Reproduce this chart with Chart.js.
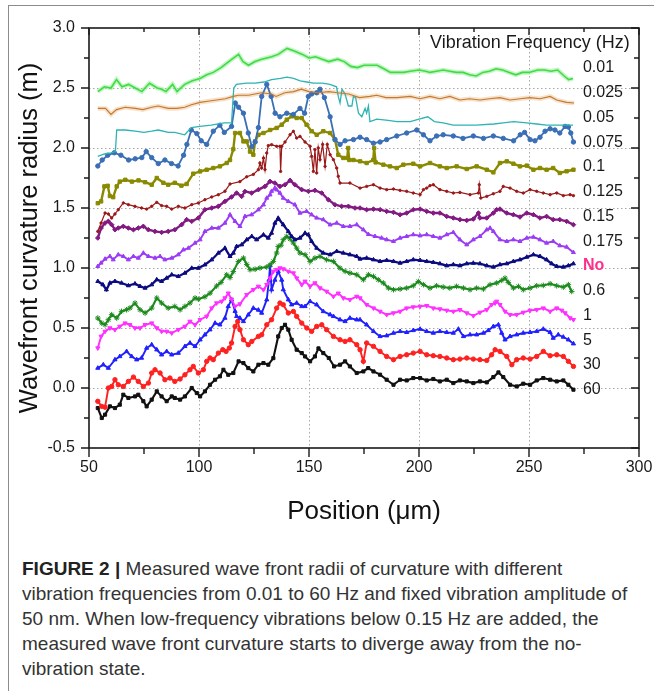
<!DOCTYPE html>
<html>
<head>
<meta charset="utf-8">
<script src="https://cdn.jsdelivr.net/npm/chart.js@4.4.1/dist/chart.umd.min.js"></script>
<style>
  html, body { margin: 0; padding: 0; background: #fff; }
  #wrap { position: relative; width: 654px; height: 691px; overflow: hidden; }
  #frame { position: absolute; left: 8px; top: 5px; right: -2px; bottom: -2px; border-left: 1px solid #8c8c8c; border-top: 1px solid #8c8c8c; }
  #chart { position: absolute; left: 0; top: 0; }
  #caption { position: absolute; left: 22px; top: 556px; font: 19px/25px "Liberation Sans", Arial, sans-serif; color: #333; white-space: nowrap; }
  #caption b { color: #222; }
</style>
</head>
<body>
<div id="wrap">
  <div id="frame"></div>
  <canvas id="chart" width="654" height="540"></canvas>
  <div id="caption">
    <b>FIGURE 2 |</b> Measured wave front radii of curvature with different<br>
    vibration frequencies from 0.01 to 60 Hz and fixed vibration amplitude of<br>
    50 nm. When low-frequency vibrations below 0.15 Hz are added, the<br>
    measured wave front curvature starts to diverge away from the no-<br>
    vibration state.
  </div>
</div>
<script>
// [position (µm), radius (m)] for each vibration frequency
const f001 = [[54,2.47],[57,2.51],[60,2.50],[62.5,2.57],[65,2.51],[68,2.53],[71,2.50],[74,2.47],[77.5,2.54],[81,2.50],[83,2.49],[85,2.47],[88,2.53],[90,2.47],[93.5,2.53],[97,2.56],[100.5,2.58],[103.5,2.61],[106.5,2.63],[110,2.67],[115,2.74],[118,2.78],[120,2.72],[122.5,2.69],[125.5,2.72],[128.5,2.74],[133,2.76],[136,2.78],[140,2.83],[143,2.81],[147,2.78],[150,2.75],[153,2.76],[156,2.74],[159,2.72],[163,2.74],[166,2.72],[169,2.68],[172,2.67],[175,2.69],[178,2.69],[181,2.69],[184,2.66],[187,2.63],[190,2.63],[193,2.63],[196,2.64],[200,2.65],[203,2.64],[205,2.63],[208,2.64],[211,2.65],[214,2.64],[217,2.63],[220,2.63],[223,2.61],[226,2.60],[229,2.63],[232,2.64],[235,2.66],[238,2.65],[241,2.63],[244,2.61],[247,2.63],[250,2.63],[254,2.65],[257,2.65],[260,2.64],[263,2.65],[266,2.60],[268,2.57],[270,2.58]];
const f0025 = [[54,2.33],[57.5,2.33],[60,2.28],[62.5,2.32],[66.5,2.34],[71,2.33],[74.5,2.32],[78.5,2.34],[81.5,2.35],[86,2.33],[90,2.33],[93.5,2.34],[96.5,2.36],[100.5,2.38],[104,2.39],[108,2.40],[112,2.41],[115.5,2.43],[118,2.44],[122.5,2.44],[125.5,2.45],[128.5,2.46],[133,2.45],[135,2.43],[139,2.46],[143,2.47],[146.5,2.49],[150,2.47],[154,2.46],[159,2.47],[163,2.46],[168,2.45],[173,2.42],[177.7,2.43],[180.8,2.44],[185,2.42],[190,2.42],[196,2.43],[200.5,2.41],[205,2.43],[209.5,2.41],[214,2.43],[218.6,2.40],[223,2.41],[227.7,2.40],[232,2.41],[236.8,2.42],[241.4,2.40],[246,2.41],[250.5,2.42],[255,2.41],[259.6,2.43],[262.6,2.40],[267.1,2.38],[270.5,2.375]];
const f005 = [[54,1.93],[57,1.95],[60,1.96],[62,1.97],[62.6,2.15],[66.5,2.15],[71,2.14],[75,2.13],[78.5,2.14],[81.5,2.15],[86,2.13],[89,2.13],[93.5,2.11],[96.5,2.17],[100.5,2.18],[105.5,2.19],[111.5,2.21],[114.8,2.21],[115.8,2.50],[117,2.53],[121.5,2.54],[125.5,2.54],[129.5,2.55],[133,2.57],[137,2.58],[140,2.59],[143,2.58],[146,2.56],[149,2.55],[152,2.54],[156,2.54],[159.5,2.53],[162.5,2.51],[163.3,2.43],[164.1,2.375],[165,2.49],[166.4,2.45],[167.9,2.35],[169.5,2.35],[170.2,2.43],[171.2,2.42],[172.5,2.29],[174,2.26],[175.5,2.33],[176.2,2.29],[177,2.35],[177.7,2.22],[180.8,2.24],[186,2.23],[190,2.22],[196,2.22],[200,2.24],[204,2.26],[207,2.22],[211,2.21],[215.6,2.19],[221.7,2.19],[226,2.19],[234,2.20],[238.3,2.21],[243,2.22],[249,2.21],[253.5,2.20],[258,2.19],[264,2.19],[270,2.19]];
const f0075 = [[54,1.85],[56,1.90],[58.5,1.94],[61.5,1.96],[64.5,1.94],[68,1.90],[71,1.91],[74,1.92],[76,1.97],[78.5,1.92],[81.5,1.87],[84.5,1.90],[87.5,1.87],[90.5,1.85],[93,1.94],[94.5,2.03],[96.5,2.15],[99,2.12],[101,2.06],[103.5,2.03],[106.5,2.14],[109.5,2.19],[111.5,2.13],[114.8,2.18],[116.5,2.375],[118,2.34],[120.2,2.29],[122.4,2.125],[124,2.01],[125.5,2.05],[127,2.17],[128.5,2.43],[130.8,2.53],[132.8,2.43],[134.6,2.29],[136.8,2.26],[139.9,2.29],[142.9,2.28],[145.9,2.33],[148,2.29],[149.7,2.43],[151.2,2.45],[153.5,2.46],[155,2.49],[157,2.42],[159.6,2.26],[161.8,2.07],[164.1,2.03],[166.4,2.06],[170.2,2.07],[173.2,2.09],[176.2,2.07],[179.3,2.04],[182.3,2.05],[185.3,2.07],[189.9,2.10],[194.4,2.125],[199,2.15],[202,2.11],[205,2.06],[208,2.10],[211,2.11],[215.6,2.10],[220,2.08],[224.7,2.10],[229.3,2.08],[233.8,2.10],[238.3,2.08],[243,2.06],[246,2.11],[248,2.13],[250.5,2.07],[252.7,2.06],[255,2.09],[257.3,2.14],[259.6,2.16],[261.8,2.15],[264,2.125],[266.4,2.18],[267.9,2.175],[269,2.125],[270.2,2.05]];
const f01 = [[54,1.54],[55.5,1.555],[57,1.68],[58.5,1.685],[59.5,1.60],[61,1.59],[62.6,1.68],[64,1.72],[66.5,1.735],[69.5,1.72],[72.5,1.73],[75.5,1.715],[78.5,1.694],[80.8,1.75],[83.8,1.71],[86,1.694],[89,1.71],[92,1.686],[94.4,1.70],[97.4,1.786],[100.5,1.805],[103.5,1.819],[106.5,1.833],[109.5,1.847],[112.6,1.875],[114.1,1.90],[115.6,1.99],[116.4,2.125],[118.6,2.125],[120.2,2.055],[121.7,2.055],[123.2,1.97],[124.7,1.944],[125.5,2.055],[127,2.11],[129.3,2.125],[132.3,2.15],[135.3,2.167],[137.6,2.194],[139.9,2.236],[142.1,2.264],[144.4,2.25],[146.7,2.25],[148.9,2.194],[151.2,2.14],[153.5,2.11],[156.5,2.14],[159.6,2.125],[161.8,2.07],[163.3,1.944],[165.6,1.917],[167.4,1.917],[167.8,2.0],[168.3,1.90],[170.2,1.90],[173.2,1.889],[176.2,1.875],[179.2,1.90],[179.6,2.0],[180.3,1.88],[183.8,1.861],[186.8,1.847],[189.9,1.833],[192.9,1.861],[197.4,1.869],[200.5,1.847],[205,1.875],[209.5,1.847],[212.6,1.833],[217.1,1.847],[221.7,1.825],[226.2,1.847],[230.8,1.819],[233.8,1.797],[236.8,1.875],[239.9,1.889],[242.9,1.869],[245.9,1.847],[249,1.853],[252,1.819],[255,1.833],[258,1.819],[261,1.833],[264,1.792],[267.1,1.806],[270.2,1.819]];
const f0125 = [[54,1.305],[55.5,1.375],[57.3,1.458],[58.8,1.45],[60.3,1.417],[61.8,1.45],[63.3,1.486],[65.6,1.542],[67.9,1.528],[70.9,1.514],[73.9,1.50],[76.2,1.491],[78.5,1.514],[80.8,1.547],[83,1.52],[85.3,1.514],[87.6,1.491],[90.6,1.514],[93.6,1.50],[96.7,1.528],[99.7,1.542],[102.7,1.569],[105.8,1.592],[108.8,1.611],[111.8,1.64],[114.1,1.70],[118.6,1.72],[121.7,1.76],[124.7,1.78],[127,1.82],[127.7,1.875],[128.5,1.833],[129.3,1.917],[130,1.82],[130.8,1.958],[131.5,2.02],[133,2.028],[135.3,2.014],[136.8,2.014],[137.1,1.805],[137.6,2.014],[139.1,2.05],[141.4,2.111],[142.9,2.139],[144.4,2.083],[145.9,2.097],[148.2,2.05],[150.5,2.014],[151.2,1.93],[152,1.805],[152.7,1.986],[153.5,1.792],[154.2,2.0],[155,1.903],[156.2,2.03],[157.3,1.847],[158.3,2.03],[159.6,1.944],[161.1,1.903],[162.6,1.833],[163.3,1.764],[164.1,1.708],[168.6,1.708],[173.2,1.666],[176.2,1.68],[179.3,1.694],[182.3,1.666],[185.3,1.653],[188.4,1.658],[191.4,1.647],[194.4,1.639],[197.4,1.625],[200.5,1.611],[202,1.653],[203.5,1.666],[205,1.686],[206.5,1.694],[209.5,1.653],[212.6,1.639],[215.6,1.625],[218.6,1.63],[223.2,1.611],[227,1.625],[227.4,1.694],[228.1,1.583],[230.8,1.597],[233.8,1.619],[236.8,1.639],[238.3,1.68],[241.4,1.666],[244.4,1.639],[247.4,1.625],[250.5,1.653],[253.5,1.639],[256.5,1.625],[259.6,1.611],[262.6,1.625],[265.6,1.603],[268.7,1.611],[270.2,1.603]];
const f015 = [[54,1.25],[55.5,1.333],[57.3,1.375],[58.8,1.389],[60.3,1.361],[61.8,1.319],[63.3,1.333],[65.6,1.347],[67.9,1.333],[70.2,1.319],[72.4,1.333],[74.7,1.347],[77,1.319],[80,1.305],[83,1.297],[86,1.305],[89,1.319],[92.1,1.361],[94.4,1.403],[96.7,1.389],[99.7,1.417],[102.7,1.486],[105.8,1.50],[108.8,1.514],[111.8,1.555],[114.8,1.592],[117.1,1.625],[119.4,1.597],[120.9,1.638],[123.9,1.625],[127,1.653],[130,1.68],[132.3,1.722],[134.5,1.708],[136.8,1.68],[139.1,1.694],[141.4,1.73],[143.6,1.694],[146.7,1.653],[149.7,1.639],[152.7,1.647],[155.8,1.625],[158.8,1.569],[161.8,1.527],[164.8,1.514],[167.9,1.514],[170.9,1.50],[173.2,1.50],[176.2,1.486],[179.3,1.491],[182.3,1.486],[185.3,1.472],[188.4,1.464],[191.4,1.444],[194.4,1.458],[197.4,1.486],[200.5,1.491],[203.5,1.472],[206.5,1.458],[209.5,1.458],[212.6,1.43],[215.6,1.417],[218.6,1.403],[221.7,1.397],[224.7,1.408],[227,1.458],[227.7,1.417],[230.8,1.417],[233.8,1.458],[235.3,1.486],[236.8,1.491],[239.9,1.458],[242.9,1.444],[245.9,1.425],[249,1.458],[252,1.444],[255,1.417],[258,1.43],[261,1.403],[264,1.403],[267.1,1.389],[270.2,1.361]];
const f0175 = [[54,1.014],[55.5,1.042],[57.3,1.075],[59.5,1.097],[61,1.069],[63.3,1.111],[65.6,1.097],[67.9,1.069],[70.2,1.097],[72.4,1.083],[74.7,1.125],[77,1.097],[80,1.083],[82.3,1.097],[84.5,1.069],[87.6,1.083],[90.6,1.111],[92.9,1.152],[95.2,1.166],[98.2,1.208],[100.5,1.236],[102.7,1.305],[105.8,1.333],[108.8,1.333],[111.8,1.375],[114.1,1.444],[116.4,1.389],[118.6,1.347],[120.9,1.43],[123.9,1.444],[127,1.486],[129.3,1.527],[130.8,1.583],[132.3,1.61],[133,1.64],[134.5,1.666],[135.3,1.652],[136.8,1.625],[138.3,1.583],[140.6,1.555],[143.6,1.527],[145.9,1.458],[148.9,1.472],[151.2,1.444],[153.5,1.417],[156.5,1.403],[159.6,1.36],[162.6,1.375],[165.6,1.347],[168.6,1.347],[171.7,1.361],[174.7,1.319],[177,1.28],[180,1.264],[183,1.25],[185.3,1.236],[188.4,1.222],[191.4,1.25],[194.4,1.264],[197.4,1.278],[200.5,1.269],[203.5,1.278],[206.5,1.264],[209.5,1.25],[212.6,1.278],[215.6,1.297],[218.6,1.236],[221.7,1.194],[224.7,1.236],[227.7,1.264],[230.8,1.319],[232.3,1.333],[233.8,1.305],[236.8,1.236],[239.9,1.222],[242.9,1.236],[245.9,1.222],[249,1.25],[252,1.258],[255,1.236],[258,1.208],[261,1.222],[264,1.186],[267.1,1.175],[270.2,1.13]];
const fNo = [[54,0.889],[56.3,0.861],[57.9,0.819],[59.5,0.875],[61.8,0.889],[64.8,0.875],[67.9,0.853],[70.9,0.869],[73.2,0.847],[75.5,0.833],[78.5,0.861],[80.8,0.903],[83,0.889],[85.3,0.916],[87.6,0.944],[90.6,0.93],[93.6,0.958],[96.7,0.999],[99.7,0.999],[102.7,1.027],[105.8,1.069],[108.8,1.125],[111.8,1.166],[114.1,1.097],[115.6,1.125],[117.1,1.18],[119.4,1.194],[121.7,1.236],[124,1.264],[126.2,1.236],[129.3,1.277],[131.5,1.25],[133,1.291],[134.5,1.375],[136,1.416],[138.3,1.361],[140.6,1.305],[142.1,1.264],[143.6,1.236],[145.9,1.25],[148.2,1.291],[149.7,1.277],[151.2,1.222],[153.5,1.166],[156.5,1.125],[159.6,1.111],[162.6,1.139],[165.6,1.125],[168.6,1.111],[171.7,1.097],[173.2,1.075],[176.2,1.083],[179.3,1.069],[182.3,1.055],[185.3,1.064],[188.4,1.055],[191.4,1.041],[194.4,1.055],[197.4,1.069],[200.5,1.064],[203.5,1.055],[206.5,1.047],[209.5,1.036],[212.6,1.019],[215.6,1.028],[218.6,1.019],[221.7,1.036],[224.7,1.041],[227.7,1.036],[230.8,1.019],[233.8,1.008],[236.8,1.028],[239.9,1.036],[242.9,1.055],[245.9,1.069],[249,1.091],[252,1.111],[255,1.097],[258,1.069],[260.3,1.036],[262.6,1.014],[265.6,1.008],[267.9,1.019],[270.2,1.036]];
const f06 = [[54,0.583],[55.8,0.541],[57.3,0.527],[58.8,0.569],[60.3,0.611],[62.6,0.583],[64.8,0.639],[67.1,0.652],[68.6,0.666],[70.9,0.708],[73.2,0.652],[75.5,0.625],[78.5,0.666],[80.8,0.75],[83,0.708],[86,0.666],[89,0.68],[91.4,0.652],[93.6,0.68],[95.9,0.708],[98.2,0.75],[99.7,0.74],[102.7,0.76],[105,0.79],[108,0.85],[110,0.88],[112.6,0.944],[114.1,0.92],[115.6,0.97],[117.9,1.055],[120.2,1.083],[121.7,1.03],[123.2,0.986],[125.5,0.99],[127.7,1.0],[130.8,1.008],[132.3,1.027],[133.8,1.055],[135.3,1.125],[136,1.18],[137.3,1.19],[138.3,1.236],[139.9,1.264],[141.4,1.242],[142.9,1.208],[144.4,1.166],[145.9,1.125],[148.2,1.111],[150.5,1.055],[152.7,1.083],[155,1.097],[158,1.069],[161.1,1.055],[164.1,0.999],[166.4,0.972],[168.6,0.958],[171.7,0.944],[174.7,0.902],[177,0.944],[179.3,0.93],[181.5,0.902],[183.8,0.875],[186.1,0.833],[188.4,0.819],[191.4,0.825],[194.4,0.833],[197.4,0.852],[199.7,0.888],[202,0.861],[205,0.833],[208,0.852],[211,0.841],[214,0.833],[217.1,0.847],[220.2,0.833],[223.2,0.819],[226.2,0.833],[229.3,0.825],[232.3,0.861],[235.3,0.875],[237.6,0.897],[239.1,0.916],[240.6,0.88],[242.9,0.833],[245.2,0.847],[247.4,0.819],[250.5,0.833],[253.5,0.852],[256.5,0.855],[259.6,0.869],[262.6,0.852],[265.6,0.841],[267.9,0.861],[269.4,0.805]];
const f1 = [[54,0.333],[55.5,0.43],[57.3,0.472],[59.5,0.50],[61.8,0.486],[64,0.513],[66.4,0.541],[68.6,0.527],[70.9,0.50],[73.2,0.50],[75.5,0.527],[78.5,0.541],[80.8,0.50],[83,0.472],[85.3,0.472],[87.6,0.458],[90.6,0.486],[93.6,0.513],[95.9,0.555],[98.2,0.527],[100.5,0.569],[103.5,0.597],[105.8,0.666],[108,0.708],[110.3,0.722],[111.8,0.75],[113.3,0.79],[114.8,0.74],[116.4,0.68],[118.6,0.70],[121.7,0.777],[124.7,0.819],[127,0.847],[129.3,0.819],[130.8,0.861],[132.3,0.916],[133.8,0.972],[135.3,0.986],[136.8,1.0],[138.3,0.992],[140.6,0.972],[142.9,0.958],[144.4,0.916],[146.7,0.861],[148.2,0.889],[150.5,0.847],[152.7,0.875],[155,0.833],[158,0.805],[161.1,0.763],[163.3,0.79],[165.6,0.75],[168.6,0.736],[171.7,0.763],[173.2,0.75],[176.2,0.694],[179.3,0.666],[182.3,0.638],[185.3,0.611],[188.4,0.625],[191.4,0.638],[194.4,0.666],[197.4,0.675],[200.5,0.68],[203.5,0.686],[206.5,0.666],[209.5,0.658],[212.6,0.647],[215.6,0.638],[218.6,0.652],[221.7,0.625],[224.7,0.602],[227.7,0.63],[230.8,0.652],[233,0.694],[234.6,0.708],[235.3,0.722],[236.8,0.694],[239.1,0.638],[241.4,0.611],[244.4,0.611],[247.4,0.63],[250.5,0.647],[253.5,0.652],[256.5,0.666],[259.6,0.638],[262.6,0.666],[264.9,0.647],[266.4,0.625],[268.7,0.583],[270.2,0.569]];
const f5 = [[54,0.166],[56.5,0.194],[58.8,0.166],[61.8,0.236],[64,0.263],[67.1,0.305],[69.4,0.263],[71.7,0.236],[73.9,0.25],[76.2,0.333],[78.5,0.361],[80.8,0.319],[83,0.277],[85.3,0.305],[87.6,0.277],[90.6,0.291],[93.6,0.347],[95.9,0.375],[98.2,0.347],[100.5,0.402],[102.7,0.444],[105,0.486],[107.3,0.541],[109.5,0.527],[111.8,0.583],[113.3,0.68],[114.8,0.736],[116.4,0.64],[117.1,0.597],[118.6,0.583],[120.2,0.555],[122.4,0.61],[124.7,0.666],[127,0.65],[128.5,0.625],[130.8,0.736],[131.8,0.90],[132.3,1.02],[133,0.82],[134.5,0.90],[136,0.972],[137.6,0.90],[138.3,0.82],[140.6,0.736],[142.1,0.694],[144.4,0.708],[146.7,0.68],[148.2,0.68],[150.5,0.722],[153.5,0.694],[156.5,0.638],[159.6,0.611],[161.1,0.597],[164.1,0.569],[166.4,0.555],[168.6,0.583],[171.7,0.569],[173.2,0.569],[176.2,0.527],[179.3,0.472],[182.3,0.43],[185.3,0.436],[188.4,0.458],[191.4,0.472],[194.4,0.464],[197.4,0.48],[200.5,0.491],[203.5,0.472],[206.5,0.458],[209.5,0.472],[212.6,0.464],[215.6,0.458],[217.9,0.491],[220.2,0.43],[223.2,0.444],[226.2,0.444],[229.3,0.458],[231.5,0.48],[233.8,0.513],[236.1,0.527],[237.6,0.458],[239.1,0.402],[241.4,0.43],[244.4,0.444],[247.4,0.458],[250.5,0.464],[253.5,0.472],[256.5,0.491],[259.6,0.464],[261,0.416],[263.3,0.444],[265.6,0.425],[267.9,0.402],[270.2,0.369]];
const f30 = [[54,-0.111],[55.8,-0.153],[57.3,-0.16],[58.8,0.0],[60.3,0.013],[61.8,0.069],[63.3,0.027],[65.6,0.013],[67.9,0.055],[70.2,0.091],[72.4,0.055],[74.7,0.013],[77,0.041],[78.5,0.125],[80,0.152],[82.3,0.125],[84.5,0.069],[86.8,0.083],[89,0.055],[91.4,0.075],[93.6,0.11],[95.9,0.152],[97.4,0.18],[99.7,0.125],[102,0.152],[103.5,0.222],[105,0.25],[106.5,0.236],[108.8,0.291],[110.8,0.319],[112.3,0.305],[113.8,0.333],[114.8,0.375],[116.4,0.513],[117.6,0.555],[118.6,0.486],[120.2,0.402],[122.4,0.361],[124,0.388],[127,0.43],[128.5,0.444],[130.8,0.527],[133,0.569],[135.3,0.666],[136.8,0.708],[138.3,0.694],[140.6,0.625],[142.9,0.638],[144.4,0.597],[146.7,0.541],[149,0.50],[151.2,0.472],[153.5,0.513],[155.8,0.527],[158,0.486],[161.1,0.43],[164.1,0.402],[166.4,0.388],[168.6,0.402],[171.7,0.361],[173.2,0.319],[174.7,0.222],[176.2,0.375],[179.3,0.347],[182.3,0.305],[185.3,0.263],[188.4,0.236],[191.4,0.263],[194.4,0.277],[197.4,0.291],[200.5,0.305],[203.5,0.277],[206.5,0.269],[209.5,0.263],[212.6,0.25],[215.6,0.236],[218.6,0.241],[221.7,0.25],[224.7,0.241],[227.7,0.236],[230.8,0.23],[233,0.277],[234.6,0.319],[236.8,0.305],[239.9,0.263],[242.2,0.194],[244.4,0.236],[247.4,0.25],[250.5,0.241],[253.5,0.263],[256.5,0.305],[259.6,0.269],[262.6,0.277],[265.6,0.263],[267.9,0.222],[270.2,0.18]];
const f60 = [[54,-0.167],[55.8,-0.25],[57.3,-0.222],[59.5,-0.153],[61.8,-0.167],[64,-0.139],[65.6,-0.056],[67.9,-0.083],[70.9,-0.07],[72.4,-0.056],[74.7,-0.11],[76.2,-0.153],[78.5,-0.097],[80.8,-0.028],[83,-0.07],[85.3,-0.11],[87.6,-0.07],[89,-0.083],[91.4,-0.097],[93.6,-0.07],[96.7,0.0],[99,-0.042],[100.5,-0.07],[102.7,-0.028],[105,0.027],[107.3,0.069],[109.5,0.097],[111.1,0.152],[113.3,0.11],[115.6,0.125],[118,0.222],[120.2,0.208],[122.4,0.166],[124.7,0.138],[127,0.194],[129.3,0.208],[131.5,0.194],[133.8,0.249],[136,0.43],[137.6,0.50],[139.1,0.527],[140.6,0.486],[142.1,0.402],[144.4,0.319],[146.7,0.291],[148.2,0.263],[150.5,0.222],[152.7,0.263],[154.3,0.33],[156.5,0.291],[159,0.25],[161.4,0.18],[164.1,0.194],[166.4,0.222],[168.6,0.18],[171.7,0.125],[174.7,0.138],[176.9,0.166],[179.3,0.138],[182.3,0.111],[185.3,0.069],[188.4,0.027],[191.4,0.069],[194.4,0.063],[197.4,0.083],[200.5,0.083],[203.5,0.063],[206.5,0.075],[209.5,0.055],[212.6,0.069],[215.6,0.041],[218.6,0.063],[221.7,0.055],[224.7,0.041],[227.7,0.055],[230.8,0.047],[233.8,0.091],[236.1,0.13],[238.3,0.091],[241.4,0.027],[244.4,0.013],[247.4,0.036],[250.5,0.027],[253.5,0.063],[256.5,0.083],[259.6,0.069],[262.6,0.055],[265.6,0.063],[267.9,0.027],[270.2,-0.014]];

const seriesNames = ['0.01', '0.025', '0.05', '0.075', '0.1', '0.125', '0.15', '0.175', 'No', '0.6', '1', '5', '30', '60'];
const seriesData = [f001, f0025, f005, f0075, f01, f0125, f015, f0175, fNo, f06, f1, f5, f30, f60];
const xTicks = [50, 100, 150, 200, 250, 300];
const yTicks = [-0.5, 0.0, 0.5, 1.0, 1.5, 2.0, 2.5, 3.0];

// line look per series: colour, line width, marker
const looks = [
  { color: '#3fdc46', width: 1.6, style: 'circle', r: 0, halo: 'rgba(140,235,140,0.5)' },
  { color: '#c27a30', width: 1.1, style: 'circle', r: 0, halo: 'rgba(240,195,150,0.5)' },
  { color: '#2fb3b3', width: 1.3, style: 'circle', r: 0 },
  { color: '#3a6eb5', width: 1.8, style: 'circle', r: 2.2 },
  { color: '#8a8a00', width: 2.4, style: 'rect', r: 2.4 },
  { color: '#9a1818', width: 1.2, style: 'circle', r: 1.2 },
  { color: '#821a82', width: 2.4, style: 'rectRot', r: 2.3 },
  { color: '#9a3cf5', width: 1.9, style: 'triangle', r: 2.3 },
  { color: '#0c0c80', width: 2.3, style: 'triangle', r: 2.3 },
  { color: '#1d8a1d', width: 2.1, style: 'star', r: 2.8 },
  { color: '#ff30ff', width: 1.9, style: 'triangle', r: 2.4, rot: 180 },
  { color: '#2020ff', width: 1.9, style: 'triangle', r: 2.4 },
  { color: '#ff2020', width: 1.9, style: 'circle', r: 2.2 },
  { color: '#111111', width: 2.1, style: 'rect', r: 2.2 }
];

const FONT = '"Liberation Sans", Arial, sans-serif';
const datasets = [];
seriesData.forEach((rows, i) => {
  const lk = looks[i];
  const pts = rows.map(([x, y]) => ({ x, y }));
  if (lk.halo) {
    datasets.push({ data: pts, showLine: true, borderColor: lk.halo, borderWidth: 4.5, pointRadius: 0, order: 20 + i });
  }
  datasets.push({
    label: seriesNames[i], data: pts, showLine: true,
    borderColor: lk.color, borderWidth: lk.width,
    pointStyle: lk.style, pointRadius: lk.r, pointRotation: lk.rot || 0,
    pointBackgroundColor: lk.color, pointBorderColor: lk.color, pointBorderWidth: 1,
    order: i
  });
});

// dotted grid, boxed axes with minor ticks, series labels
const axesBox = {
  id: 'axesBox',
  beforeDatasetsDraw(chart) {
    const { ctx, chartArea: a, scales: { x, y } } = chart;
    ctx.save();
    ctx.strokeStyle = '#a8a8a8';
    ctx.lineWidth = 1;
    ctx.setLineDash([1.5, 2.5]);
    yTicks.slice(1, -1).forEach(v => {
      const py = Math.round(y.getPixelForValue(v)) + 0.5;
      ctx.beginPath(); ctx.moveTo(a.left, py); ctx.lineTo(a.right, py); ctx.stroke();
    });
    xTicks.slice(1, -1).forEach(v => {
      const px = Math.round(x.getPixelForValue(v)) + 0.5;
      ctx.beginPath(); ctx.moveTo(px, a.top); ctx.lineTo(px, a.bottom); ctx.stroke();
    });
    ctx.restore();
  },
  afterDatasetsDraw(chart) {
    const { ctx, chartArea: a, scales: { x, y } } = chart;
    ctx.save();
    ctx.strokeStyle = '#1a1a1a';
    ctx.lineWidth = 1.6;
    ctx.strokeRect(a.left, a.top, a.right - a.left, a.bottom - a.top);
    ctx.lineWidth = 1.4;
    ctx.beginPath();
    for (let v = -0.5; v <= 3.0001; v += 0.25) {
      const major = Math.abs(v * 2 - Math.round(v * 2)) < 1e-6;
      const py = y.getPixelForValue(v);
      const len = major ? 8 : 5;
      ctx.moveTo(a.left - len, py); ctx.lineTo(a.left, py);
      ctx.moveTo(a.right, py); ctx.lineTo(a.right - len, py);
    }
    for (let v = 50; v <= 300; v += 25) {
      const major = v % 50 === 0;
      const px = x.getPixelForValue(v);
      ctx.moveTo(px, a.bottom); ctx.lineTo(px, a.bottom + (major ? 9 : 6));
      ctx.moveTo(px, a.top); ctx.lineTo(px, a.top + (major ? 7 : 4));
    }
    ctx.stroke();

    // legend heading and per-series labels beside the line ends
    ctx.fillStyle = '#1a1a1a';
    ctx.textBaseline = 'middle';
    ctx.textAlign = 'left';
    ctx.font = '18px ' + FONT;
    ctx.fillText('Vibration Frequency (Hz)', x.getPixelForValue(205), y.getPixelForValue(2.878));
    seriesNames.forEach((name, i) => {
      const isNo = name === 'No';
      ctx.font = (isNo ? 'bold ' : '') + '16px ' + FONT;
      ctx.fillStyle = isNo ? '#ff2d8c' : '#1a1a1a';
      ctx.fillText(name, x.getPixelForValue(274.5), y.getPixelForValue(2.667 - 0.2063 * i));
    });
    ctx.restore();
  }
};

new Chart(document.getElementById('chart'), {
  type: 'scatter',
  data: { datasets },
  options: {
    responsive: false,
    animation: false,
    devicePixelRatio: 1,
    layout: { padding: { top: 28, right: 15, left: 0, bottom: 0 } },
    elements: { line: { tension: 0 } },
    plugins: { legend: { display: false }, tooltip: { enabled: false } },
    scales: {
      x: {
        type: 'linear', min: 50, max: 300,
        afterFit: s => { s.height = 92; s.paddingLeft = 0; s.paddingRight = 0; },
        afterBuildTicks: s => { s.ticks = xTicks.map(v => ({ value: v })); },
        ticks: { font: { family: FONT, size: 16 }, color: '#1a1a1a', padding: 10, maxRotation: 0 },
        grid: { display: false, drawTicks: false },
        border: { display: false },
        title: { display: true, text: 'Position (μm)', color: '#111', font: { family: FONT, size: 26 }, padding: { top: 0, bottom: 13 } }
      },
      y: {
        min: -0.5, max: 3.0,
        afterFit: s => { s.width = 89; s.paddingTop = 0; s.paddingBottom = 0; },
        afterBuildTicks: s => { s.ticks = yTicks.map(v => ({ value: v })); },
        ticks: { font: { family: FONT, size: 16 }, color: '#1a1a1a', padding: 14, callback: v => v.toFixed(1) },
        grid: { display: false, drawTicks: false },
        border: { display: false },
        title: { display: true, text: 'Wavefront curvature radius (m)', color: '#111', font: { family: FONT, size: 25.5 }, padding: { top: 15, bottom: 0 } }
      }
    }
  },
  plugins: [axesBox]
});
</script>
</body>
</html>
